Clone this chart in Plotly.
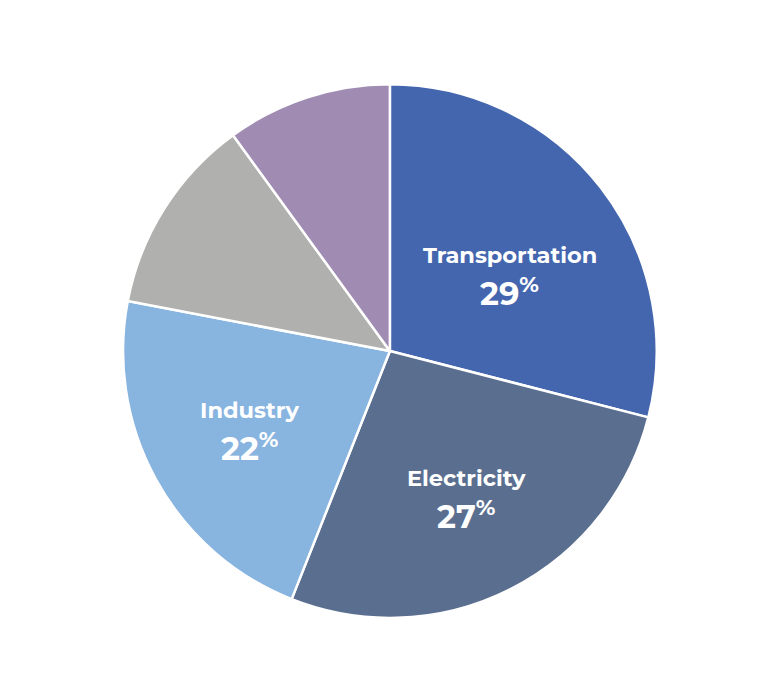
import math
import plotly.graph_objects as go

categories = ["Transportation", "Electricity", "Industry", "Commercial & Residential", "Agriculture"]
values = [29, 27, 22, 12, 10]
colors = ["#4466AE", "#5A6F90", "#88B4E0", "#B0B0AE", "#A08CB2"]
show_label = [True, True, True, False, False]

# styling: radial position of the inside labels (fraction of radius) and nudges in px
label_radius = [0.56, 0.61, 0.60, 0.6, 0.6]
label_nudge_x = [2, 3, 0, 0, 0]
label_nudge_y = [-14, 0, 0, 0, 0]

W, H = 769, 689
dom_x = [0.160, 0.854]
dom_y = [0.103, 0.878]

fig = go.Figure(go.Pie(
    labels=categories,
    values=values,
    sort=False,
    direction="clockwise",
    rotation=0,
    marker=dict(colors=colors, line=dict(color="white", width=2.5)),
    textinfo="none",
    hoverinfo="label+percent",
    domain=dict(x=dom_x, y=dom_y),
    showlegend=False,
))

cx = (dom_x[0] + dom_x[1]) / 2 * W
cy = (dom_y[0] + dom_y[1]) / 2 * H
radius = min((dom_x[1] - dom_x[0]) * W, (dom_y[1] - dom_y[0]) * H) / 2
total = sum(values)
cum = 0
annotations = []
font = "Montserrat, 'Open Sans', Lato, sans-serif"
for name, v, show, lr, nx, ny in zip(categories, values, show_label, label_radius,
                                     label_nudge_x, label_nudge_y):
    mid = (cum + v / 2) / total * 2 * math.pi
    cum += v
    if not show:
        continue
    r = radius * lr
    px = cx + r * math.sin(mid) + nx
    py = cy + r * math.cos(mid) + ny
    annotations.append(dict(
        x=px / W, y=(py + 18) / H, xref="paper", yref="paper",
        text=f"<b>{name}</b>", showarrow=False,
        font=dict(family=font, size=22.5, color="white"),
        xanchor="center", yanchor="middle"))
    annotations.append(dict(
        x=px / W, y=(py - 18) / H, xref="paper", yref="paper",
        text=f"<b>{v}<sup>%</sup></b>", showarrow=False,
        font=dict(family=font, size=32, color="white"),
        xanchor="center", yanchor="middle"))

fig.update_layout(
    width=W, height=H,
    margin=dict(l=0, r=0, t=0, b=0),
    paper_bgcolor="white",
    plot_bgcolor="white",
    annotations=annotations,
)

fig.write_html("out.html")
